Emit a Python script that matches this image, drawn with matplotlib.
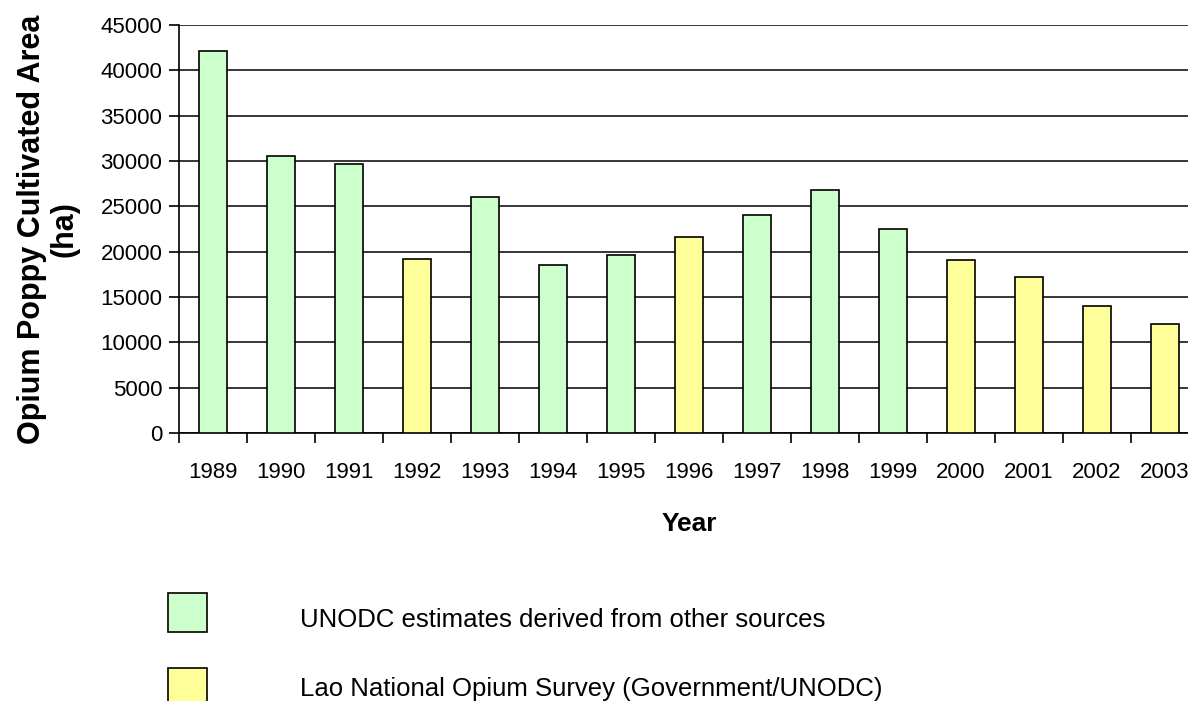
import matplotlib.pyplot as plt
import matplotlib
from matplotlib.patches import Rectangle

matplotlib.rcParams['font.family'] = ['Liberation Sans', 'DejaVu Sans']

# Opium poppy cultivation in Lao PDR (ha)
years = ['1989', '1990', '1991', '1992', '1993', '1994', '1995', '1996',
         '1997', '1998', '1999', '2000', '2001', '2002', '2003']
area = [42130, 30580, 29625, 19190, 26040, 18520, 19650, 21601,
        24082, 26837, 22543, 19052, 17255, 14000, 12000]
# source of each estimate: 'U' = UNODC other sources, 'L' = Lao national survey
source = ['U', 'U', 'U', 'L', 'U', 'U', 'U', 'L',
          'U', 'U', 'U', 'L', 'L', 'L', 'L']

legend_labels = ['UNODC estimates derived from other sources',
                 'Lao National Opium Survey (Government/UNODC)']
colors = {'U': '#CCFFCC', 'L': '#FFFF99'}

W, H = 1188, 701
fig = plt.figure(figsize=(W / 100, H / 100), dpi=100)
ax = fig.add_axes([179 / W, 1 - 433 / H, 1020 / W, 408 / H])

x = list(range(len(years)))
ax.bar(x, area, width=0.4, color=[colors[s] for s in source],
       edgecolor='black', linewidth=1.2, zorder=3)

ax.set_xlim(-0.5, len(years) - 0.5)
ax.set_ylim(0, 45000)
ax.set_yticks(range(0, 45001, 5000))
ax.tick_params(axis='y', direction='out', length=7, width=1.2, labelsize=16, pad=5)
ax.yaxis.grid(True, color='black', linewidth=1.1, zorder=0)

# year labels at bar centres, tick marks at category boundaries
ax.set_xticks(x)
ax.set_xticklabels(years, fontsize=16)
ax.tick_params(axis='x', which='major', length=0, pad=21)
ax.set_xticks([i - 0.5 for i in range(len(years) + 1)], minor=True)
ax.tick_params(axis='x', which='minor', direction='out', length=7, width=1.2)

for side in ['top', 'right']:
    ax.spines[side].set_visible(False)
for side in ['left', 'bottom']:
    ax.spines[side].set_linewidth(1.2)

ax.set_xlabel('Year', fontsize=19, fontweight='bold', labelpad=21)
ax.set_ylabel('Opium Poppy Cultivated Area\n(ha)', fontsize=22,
              fontweight='bold', linespacing=1.1, labelpad=15)

# legend: colour keys with descriptions below the chart
key_tops = [593, 668]
text_baselines = [627, 696]
for key, label, top, base in zip(['U', 'L'], legend_labels, key_tops, text_baselines):
    fig.add_artist(Rectangle((168 / W, 1 - (top + 39) / H), 39 / W, 39 / H,
                             facecolor=colors[key], edgecolor='black',
                             linewidth=1.2, transform=fig.transFigure))
    fig.text(300 / W, 1 - base / H, label, fontsize=18.5, va='baseline')

fig.savefig('out.png', dpi=100)
